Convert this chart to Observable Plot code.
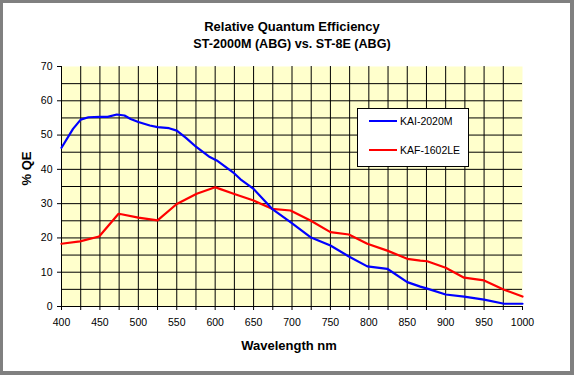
<!DOCTYPE html>
<html><head><meta charset="utf-8">
<script src="https://cdn.jsdelivr.net/npm/d3@7"></script>
<script src="https://cdn.jsdelivr.net/npm/@observablehq/plot@0.6"></script>
<style>
body{margin:0;background:#fff;font-family:"Liberation Sans",Arial,sans-serif}
#wrap{position:relative;width:574px;height:375px;overflow:hidden;background:#fff}
#border{position:absolute;left:0;top:0;width:574px;height:375px;box-sizing:border-box;border-style:solid;border-color:#808080;border-width:3px 4px 4px 3px;pointer-events:none}
#legend{position:absolute;left:357px;top:108px;width:112px;height:59px;box-sizing:border-box;border:1px solid #000;background:#fff;font-size:10.5px;color:#000}
.row{position:absolute;left:11px;height:12px;display:flex;align-items:center;white-space:nowrap}
.sw{width:28px;height:2px;margin-right:3px}
</style></head>
<body>
<div id="wrap"></div>
<script>
// Data
const kaiWavelength = [400,415,425,435,450,460,472,482,490,500,515,525,540,550,562,575,593,602,625,633,650,674,698,724,750,774,798,824,850,867,876,900,924,950,976,1000];
const kaiQE        = [46.3,51.8,54.5,55.2,55.3,55.3,56.0,55.7,54.7,53.8,52.8,52.3,52.0,51.3,49.2,46.6,43.6,42.6,38.8,37.1,34.3,28.5,24.6,20.2,17.8,14.6,11.7,11.0,7.1,5.8,5.2,3.5,2.9,2.0,0.8,0.8];
const kafWavelength = [400,424,449,474,478,500,525,550,576,600,606,624,650,674,698,724,750,774,798,824,850,867,876,900,924,950,976,1000];
const kafQE        = [18.3,19.0,20.4,27.0,26.9,25.9,25.1,29.9,32.9,34.8,34.3,32.9,30.9,28.5,28.0,25.1,21.7,21.0,18.3,16.3,13.9,13.4,13.2,11.3,8.4,7.6,4.9,2.9];
const seriesNames = ["KAI-2020M","KAF-1602LE"];
const seriesColors = ["#0000FF","#FF0000"];
const xTicks = d3.range(400, 1001, 25);
const xTickLabels = [400,450,500,550,600,650,700,750,800,850,900,950,1000];
const yTicks = [0,10,20,30,40,50,60,70];
const xGrid = d3.range(425, 1000, 25);
const yGrid = d3.range(5, 70, 5);
const titleLines = ["Relative Quantum Efficiency","ST-2000M (ABG) vs. ST-8E (ABG)"];
const xLabel = "Wavelength nm";
const yLabel = "% QE";

const kai = kaiWavelength.map((w,i)=>({w, q: kaiQE[i]}));
const kaf = kafWavelength.map((w,i)=>({w, q: kafQE[i]}));

const chart = Plot.plot({
  width: 574, height: 375,
  marginLeft: 61, marginRight: 52, marginTop: 66, marginBottom: 69,
  style: {fontFamily: '"Liberation Sans", Arial, sans-serif', fontSize: "10.5px", color: "#000", background: "transparent", overflow: "visible"},
  x: {domain: [400, 1000], label: null},
  y: {domain: [0, 70], label: null},
  marks: [
    Plot.frame({fill: "#FFFFCC", stroke: "none"}),
    Plot.ruleX(xGrid, {stroke: "#000"}),
    Plot.ruleY(yGrid, {stroke: "#000"}),
    Plot.axisX(xTicks, {tickSize: 4, tickPadding: 8, stroke: "#000", fill: "#000",
      tickFormat: d => xTickLabels.includes(d) ? String(d) : ""}),
    Plot.axisY(yTicks, {tickSize: 4, tickPadding: 5, stroke: "#000", fill: "#000"}),
    Plot.ruleX([400], {stroke: "#000"}),
    Plot.ruleY([0], {stroke: "#000"}),
    Plot.line(kaf, {x: "w", y: "q", stroke: seriesColors[1], strokeWidth: 2.2}),
    Plot.line(kai, {x: "w", y: "q", stroke: seriesColors[0], strokeWidth: 2.2}),
    Plot.text([titleLines[0]], {frameAnchor: "top", dy: -35.5, lineAnchor: "bottom", fontWeight: "bold", fontSize: 13, fill: "#000"}),
    Plot.text([titleLines[1]], {frameAnchor: "top", dy: -18.5, lineAnchor: "bottom", fontWeight: "bold", fontSize: 12.6, fill: "#000"}),
    Plot.text([xLabel], {frameAnchor: "bottom", dy: 43.5, dx: -3, lineAnchor: "bottom", fontWeight: "bold", fontSize: 13, fill: "#000"}),
    Plot.text([yLabel], {frameAnchor: "left", dx: -31, dy: -1, rotate: -90, lineAnchor: "bottom", fontWeight: "bold", fontSize: 13, fill: "#000"})
  ]
});

const wrap = document.getElementById("wrap");
wrap.appendChild(chart);

const legend = document.createElement("div");
legend.id = "legend";
const rowTops = [6, 35];
seriesNames.forEach((name, i) => {
  const row = document.createElement("div");
  row.className = "row";
  row.style.top = rowTops[i] + "px";
  const sw = document.createElement("span");
  sw.className = "sw";
  sw.style.background = seriesColors[i];
  const t = document.createElement("span");
  t.textContent = name;
  row.appendChild(sw); row.appendChild(t);
  legend.appendChild(row);
});
wrap.appendChild(legend);

const border = document.createElement("div");
border.id = "border";
wrap.appendChild(border);
</script>
</body></html>
